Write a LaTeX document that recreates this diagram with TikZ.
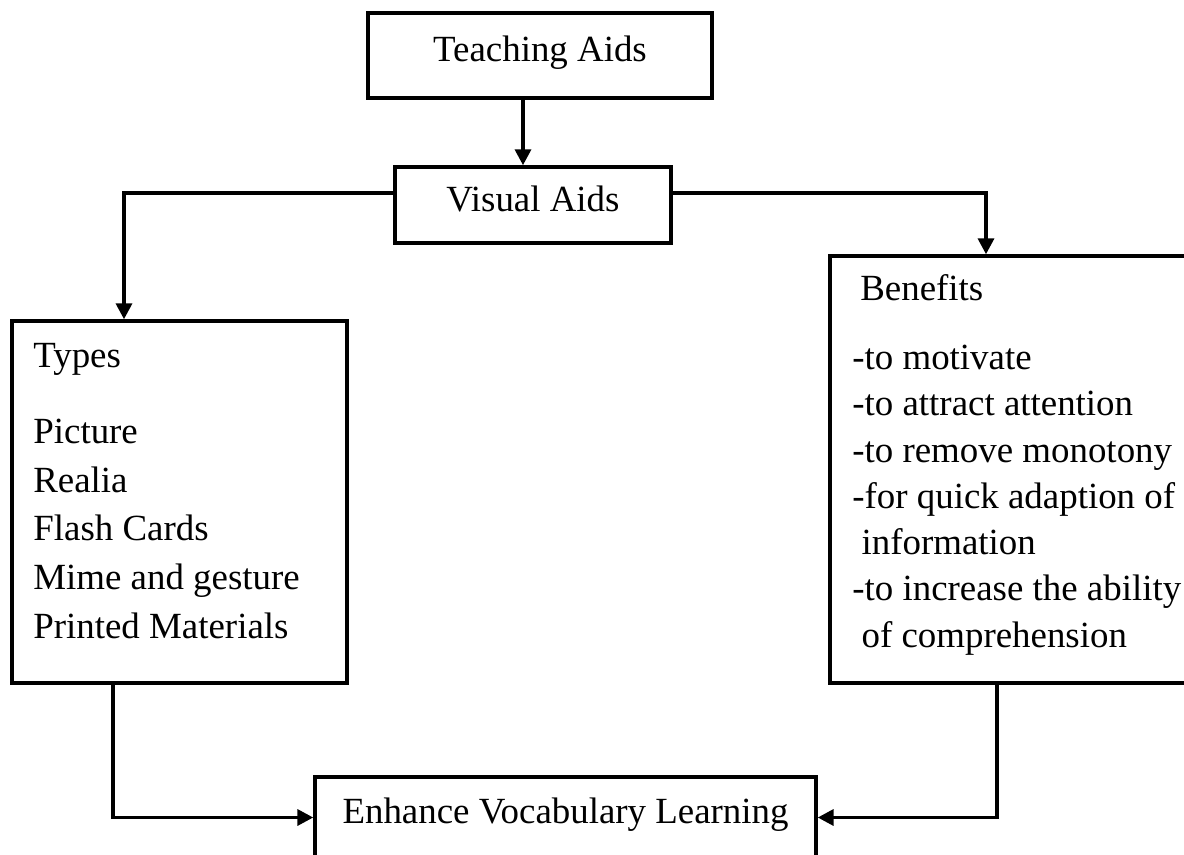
\documentclass[tikz,border=0pt]{standalone}
\usepackage{fontspec}
\setmainfont{Liberation Serif}
\usetikzlibrary{arrows.meta, positioning, calc}

\begin{document}
\begin{tikzpicture}[x=0.02cm, y=-0.02cm,
    box/.style={draw, line width=2pt, inner sep=0pt, text height=12pt, text depth=5pt, font=\fontsize{21}{25}\selectfont},
    arr/.style={line width=2pt, -{Triangle[length=9pt, width=9pt]}},
    txt/.style={inner sep=0pt, align=left, anchor=base west}]

    \useasboundingbox (0,0) rectangle (1184,855);

    % Cajas principales
    \node[box, minimum width=6.88cm, minimum height=1.70cm] (ta) at (540,55.5) {Teaching Aids};
    \node[box, minimum width=5.52cm, minimum height=1.52cm] (va) at (533,205) {Visual Aids};
    \node[box, minimum width=6.70cm, minimum height=7.24cm] (types) at (179.5,502) {};
    \node[box, minimum width=7.20cm, minimum height=8.54cm] (ben) at (1010,469.5) {};
    \node[box, minimum width=10.02cm, minimum height=1.62cm] (evl) at (565.5,817.5) {Enhance Vocabulary Learning};

    % Texto de los tipos (base = ultima linea)
    \node[txt, font=\fontsize{21}{27.7}\selectfont] (typeshead) at (33,367) {Types};
    \node[txt, font=\fontsize{21}{27.7}\selectfont] (typeslist) at (33,638)
        {Picture\\Realia\\Flash Cards\\Mime and gesture\\Printed Materials};

    % Texto de los beneficios
    \node[txt, font=\fontsize{21}{26.3}\selectfont] (benhead) at (860,300) {Benefits};
    \node[txt, font=\fontsize{21}{26.3}\selectfont] (benlist) at (852,647)
        {-to motivate\\-to attract attention\\-to remove monotony\\-for quick adaption of\\
         \hspace*{.25em}information\\-to increase the ability\\\hspace*{.25em}of comprehension};

    % --- CONECTORES ---
    \coordinate (xa) at (523,0);
    \coordinate (ya) at (0,193);
    \coordinate (xl) at (124,0);
    \coordinate (xr) at (986,0);
    \coordinate (xbl) at (113,0);
    \coordinate (xbr) at (997,0);

    \draw[arr] (ta.south -| xa) -- (va.north -| xa);
    \draw[arr] (va.west |- ya) -| (types.north -| xl);
    \draw[arr] (va.east |- ya) -| (ben.north -| xr);
    \draw[arr] (types.south -| xbl) |- (evl.west);
    \draw[arr] (ben.south -| xbr) |- (evl.east);

\end{tikzpicture}
\end{document}
